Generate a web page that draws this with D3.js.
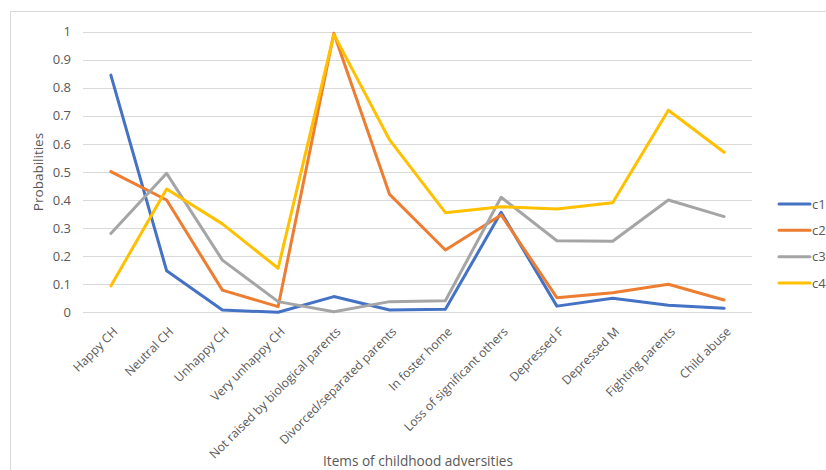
<!DOCTYPE html>
<html><head><meta charset="utf-8">
<script src="https://cdn.jsdelivr.net/npm/d3@7"></script>
<style>body{margin:0;background:#fff}svg{display:block}text{font-family:"Open Sans",sans-serif;fill:#595959}</style>
</head><body><svg id="c" width="826" height="470"></svg>
<script>
const categories = ["Happy CH","Neutral CH","Unhappy CH","Very unhappy CH","Not raised by biological parents","Divorced/separated parents","In foster home","Loss of significant others","Depressed F","Depressed M","Fighting parents","Child abuse"];
const seriesNames = ["c1","c2","c3","c4"];
const c1 = [0.845,0.148,0.008,0.0,0.056,0.008,0.011,0.356,0.022,0.050,0.025,0.014];
const c2 = [0.501,0.400,0.079,0.020,0.994,0.420,0.222,0.347,0.052,0.070,0.100,0.044];
const c3 = [0.281,0.495,0.186,0.038,0.002,0.038,0.041,0.410,0.255,0.253,0.400,0.341];
const c4 = [0.094,0.439,0.315,0.157,0.990,0.614,0.355,0.376,0.368,0.390,0.720,0.570];
const yTicks = [0,0.1,0.2,0.3,0.4,0.5,0.6,0.7,0.8,0.9,1];
const colors = ["#4472C4","#ED7D31","#A5A5A5","#FFC000"];
const series = [c1,c2,c3,c4];

const svg = d3.select("#c");
// outer chart frame
svg.append("rect").attr("x",10.5).attr("y",11.5).attr("width",830).attr("height",470)
  .attr("fill","none").attr("stroke","#d9d9d9");

const x = d3.scaleBand().domain(categories).range([83,752]);
const y = d3.scaleLinear().domain([0,1]).range([312.3,31.6]);

// gridlines
svg.append("g").selectAll("line").data(yTicks).join("line")
  .attr("x1",83).attr("x2",752).attr("y1",d=>Math.round(y(d))+0.5).attr("y2",d=>Math.round(y(d))+0.5)
  .attr("stroke","#d9d9d9").attr("stroke-width",1);

// y axis labels
const yAxis = d3.axisLeft(y).tickValues(yTicks).tickSize(0).tickPadding(0).tickFormat(d=>String(d));
const gy = svg.append("g").attr("transform","translate(71,0)").call(yAxis);
gy.select(".domain").remove();
gy.selectAll("text").attr("font-size",13).style("font-family","'Open Sans',sans-serif").attr("fill","#595959");

// x axis labels
const xAxis = d3.axisBottom(x).tickSize(0).tickPadding(0);
const gx = svg.append("g").attr("transform","translate(0,312)").call(xAxis);
gx.select(".domain").remove();
gx.selectAll("text")
  .attr("font-size",12.2).style("font-family","'Open Sans',sans-serif").attr("fill","#595959")
  .attr("text-anchor","end").attr("dy",null).attr("y",0)
  .attr("transform","translate(7.5,20.5) rotate(-45)");

// lines
const line = d3.line().x((d,i)=>x(categories[i])+x.bandwidth()/2).y(d=>y(d));
svg.append("g").selectAll("path").data(series).join("path")
  .attr("d",line).attr("fill","none").attr("stroke",(d,i)=>colors[i])
  .attr("stroke-width",3).attr("stroke-linejoin","round").attr("stroke-linecap","round");

// axis titles
svg.append("text").attr("transform","translate(43,172) rotate(-90)").attr("text-anchor","middle")
  .attr("font-size",13.5).text("Probabilities");
svg.append("text").attr("x",418).attr("y",466).attr("text-anchor","middle")
  .attr("font-size",13.6).text("Items of childhood adversities");

// legend
const ly = d3.scalePoint().domain(seriesNames).range([204,283]);
const lg = svg.append("g").selectAll("g").data(seriesNames).join("g")
  .attr("transform",d=>`translate(0,${ly(d)})`);
lg.append("line").attr("x1",779).attr("x2",810).attr("y1",0).attr("y2",0)
  .attr("stroke",(d,i)=>colors[i]).attr("stroke-width",3).attr("stroke-linecap","round");
lg.append("text").attr("x",812).attr("y",0).attr("dy","0.35em").attr("font-size",13).text(d=>d);
</script></body></html>
